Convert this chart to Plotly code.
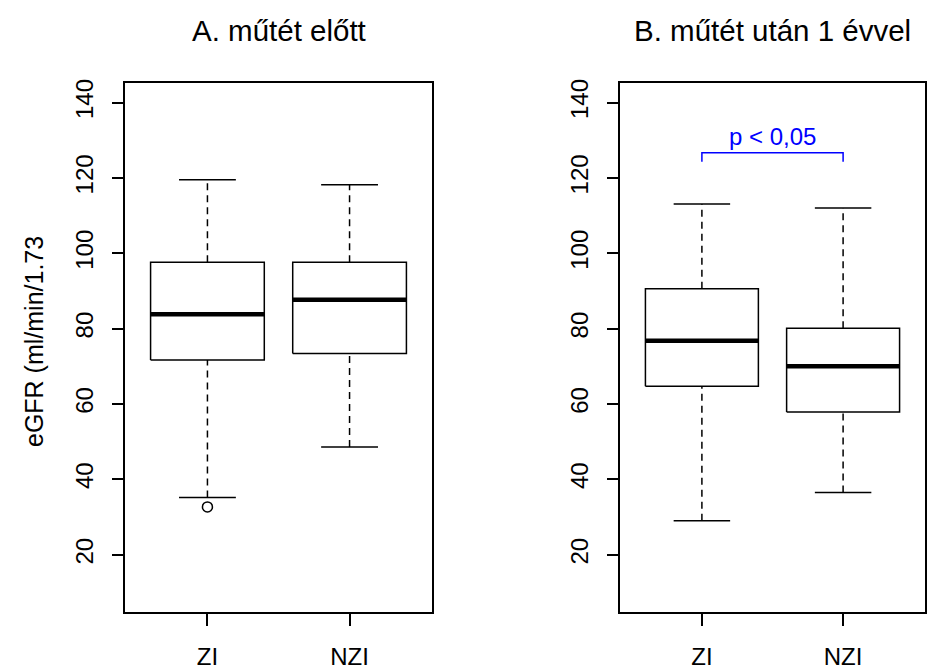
import plotly.graph_objects as go

# ---- data ----
groups = ["ZI", "NZI"]
group_pos = [1, 2]
y_ticks = [20, 40, 60, 80, 100, 120, 140]

# Panel A: before surgery
a_lower = [35.2, 48.6]
a_q1 = [71.7, 73.4]
a_median = [83.8, 87.7]
a_q3 = [97.6, 97.6]
a_upper = [119.5, 118.2]
a_outliers = [[32.7], []]

# Panel B: 1 year after surgery
b_lower = [29.0, 36.5]
b_q1 = [64.7, 57.9]
b_median = [76.8, 70.0]
b_q3 = [90.6, 80.1]
b_upper = [113.1, 112.0]
b_outliers = [[], []]

titles = ["A. műtét előtt", "B. műtét után 1 évvel"]
y_title = "eGFR (ml/min/1.73"
sig_text = "p < 0,05"
sig_bracket_y = 126.7
sig_bracket_tick = 124.3
sig_text_y = 131.0

# ---- style ----
FONT = "Liberation Sans, Arial, sans-serif"
BOXW = 0.8
CAPW = 0.4
LW = 1.5
W, H = 927, 671

fig = go.Figure()


def add_panel(xa, ya, lower, q1, med, q3, upper, outs):
    bx, by, mx, my, wx, wy, cx, cy, ox, oy = [], [], [], [], [], [], [], [], [], []
    for i, g in enumerate(group_pos):
        h = BOXW / 2
        c = CAPW / 2
        bx += [g - h, g + h, g + h, g - h, g - h, None]
        by += [q1[i], q1[i], q3[i], q3[i], q1[i], None]
        mx += [g - h, g + h, None]
        my += [med[i], med[i], None]
        wx += [g, g, None, g, g, None]
        wy += [q3[i], upper[i], None, lower[i], q1[i], None]
        cx += [g - c, g + c, None, g - c, g + c, None]
        cy += [upper[i], upper[i], None, lower[i], lower[i], None]
        for o in outs[i]:
            ox.append(g)
            oy.append(o)
    common = dict(xaxis=xa, yaxis=ya, showlegend=False, hoverinfo="skip", mode="lines")
    fig.add_trace(go.Scatter(x=wx, y=wy, line=dict(color="black", width=LW, dash="7px,5px"), **common))
    fig.add_trace(go.Scatter(x=cx, y=cy, line=dict(color="black", width=LW), **common))
    fig.add_trace(go.Scatter(x=bx, y=by, line=dict(color="black", width=LW), **common))
    fig.add_trace(go.Scatter(x=mx, y=my, line=dict(color="black", width=4.5), **common))
    if ox:
        fig.add_trace(go.Scatter(x=ox, y=oy, mode="markers", xaxis=xa, yaxis=ya,
                                 marker=dict(symbol="circle-open", size=10, color="black",
                                             line=dict(width=1.5, color="black")),
                                 showlegend=False, hoverinfo="skip"))


add_panel("x", "y", a_lower, a_q1, a_median, a_q3, a_upper, a_outliers)
add_panel("x2", "y2", b_lower, b_q1, b_median, b_q3, b_upper, b_outliers)

# significance bracket
fig.add_trace(go.Scatter(x=[group_pos[0], group_pos[0], group_pos[1], group_pos[1]],
                         y=[sig_bracket_tick, sig_bracket_y, sig_bracket_y, sig_bracket_tick],
                         mode="lines", line=dict(color="#0000FF", width=LW),
                         xaxis="x2", yaxis="y2", showlegend=False, hoverinfo="skip"))

left_dom = [125 / W, 432 / W]
right_dom = [620 / W, 925 / W]
y_dom = [1 - 612 / H, 1 - 83 / H]

xcommon = dict(range=[0.42, 2.58], tickvals=group_pos, ticktext=groups,
               showline=True, mirror=True, linecolor="black", linewidth=LW,
               ticks="outside", ticklen=12, tickwidth=LW, tickcolor="black",
               showgrid=False, zeroline=False, ticklabelstandoff=10, automargin=False,
               tickfont=dict(family=FONT, size=24, color="black"))
ycommon = dict(range=[4.8, 145.2], tickvals=y_ticks, domain=y_dom,
               showline=True, mirror=True, linecolor="black", linewidth=LW,
               ticks="outside", ticklen=11, tickwidth=LW, tickcolor="black",
               showgrid=False, zeroline=False, tickangle=-90, ticklabelstandoff=10,
               automargin=False,
               tickfont=dict(family=FONT, size=24, color="black"))

fig.update_layout(
    width=W, height=H, autosize=False,
    margin=dict(l=0, r=0, t=0, b=0),
    paper_bgcolor="white", plot_bgcolor="white",
    xaxis=dict(domain=left_dom, anchor="y", **xcommon),
    yaxis=dict(anchor="x", **ycommon),
    xaxis2=dict(domain=right_dom, anchor="y2", **xcommon),
    yaxis2=dict(anchor="x2", **ycommon),
    annotations=[
        dict(text=titles[0], xref="paper", yref="paper", x=(left_dom[0] + left_dom[1]) / 2,
             y=1 - 30 / H, xanchor="center", yanchor="middle", showarrow=False,
             font=dict(family=FONT, size=29.5, color="black")),
        dict(text=titles[1], xref="paper", yref="paper", x=(right_dom[0] + right_dom[1]) / 2,
             y=1 - 30 / H, xanchor="center", yanchor="middle", showarrow=False,
             font=dict(family=FONT, size=29.5, color="black")),
        dict(text=y_title, xref="paper", yref="paper", x=34 / W, y=1 - 342 / H,
             xanchor="center", yanchor="middle", textangle=-90, showarrow=False,
             font=dict(family=FONT, size=25, color="black")),
        dict(text=sig_text, xref="x2", yref="y2", x=(group_pos[0] + group_pos[1]) / 2,
             y=sig_text_y, xanchor="center", yanchor="middle", showarrow=False,
             font=dict(family=FONT, size=24, color="#0000FF")),
    ],
)

fig.write_html("out.html")
